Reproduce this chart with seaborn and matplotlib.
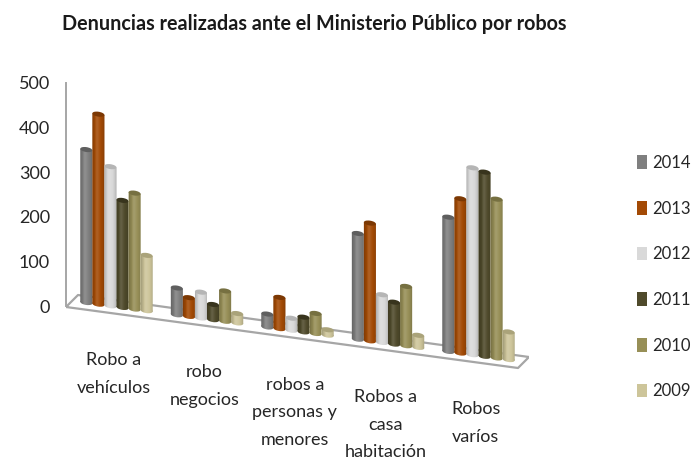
import numpy as np
import pandas as pd
import matplotlib
matplotlib.use("Agg")
import matplotlib.pyplot as plt
from matplotlib.patches import Ellipse
from matplotlib.path import Path
from matplotlib.transforms import Affine2D
import seaborn as sns

categories = ["Robo a\nvehículos", "robo\nnegocios", "robos a\npersonas y\nmenores",
              "Robos a\ncasa\nhabitación", "Robos\nvaríos"]
years = ["2014", "2013", "2012", "2011", "2010", "2009"]
v2014 = [343, 60, 29, 237, 301]
v2013 = [426, 42, 70, 264, 346]
v2012 = [312, 58, 27, 107, 419]
v2011 = [240, 34, 33, 94, 413]
v2010 = [260, 68, 45, 133, 356]
v2009 = [124, 21, 12, 27, 62]
colors = ["#7f7f7f", "#a34a05", "#d9d9d9", "#4f4a2b", "#978f57", "#cdc59a"]
caps = ["#5f5f5f", "#7c3803", "#b5b5b5", "#38341d", "#767041", "#aaa37a"]

rows = []
for year, vals in zip(years, [v2014, v2013, v2012, v2011, v2010, v2009]):
    for cat, v in zip(categories, vals):
        rows.append({"cat": cat, "year": year, "value": v})
df = pd.DataFrame(rows)

sns.set_theme(style="white")
plt.rcParams["font.family"] = ["Lato", "DejaVu Sans"]

W, H = 692, 465
fig = plt.figure(figsize=(W / 100, H / 100), dpi=100)
ax = fig.add_axes([66 / W, 1 - 465 / H, (529 - 66) / W, (465 - 83) / H])
ax.patch.set_alpha(0)

sns.barplot(data=df, x="cat", y="value", hue="year", hue_order=years, order=categories,
            palette=colors, saturation=1, width=0.8, ax=ax, errorbar=None, linewidth=0)

xlim = (-0.558, 4.558)
ylim = (-356.5, 500)

# the floor runs downhill to the right, so everything gets sheared
slope = 27.4
x_ref = -0.05
shear = Affine2D(np.array([[1, 0, 0], [-slope, 1, slope * x_ref], [0, 0, 1]]))
trans = shear + ax.transData


def px(x, y):
    return (x - 116.5) / 90.5, (306 - y) / 0.446


# floor outline, behind the bars
floor = [px(66, 307), px(518, 368), px(529, 357), px(78, 295), px(66, 307)]
ax.plot([p[0] for p in floor], [p[1] for p in floor], color="#a6a6a6", lw=1.6, zorder=1)

t = np.linspace(-1, 1, 24)
dark = 0.2 * np.abs(t) ** 2.5
light = np.exp(-((t + 0.2) / 0.35) ** 2) * 0.12
shade = np.zeros((1, 24, 4))
shade[0, :, :3] = (light > dark)[:, None] * 1.0
shade[0, :, 3] = np.maximum(dark, light)

cap_h = 11
z = 3
bars = []
for i, cont in enumerate(ax.containers):
    for bar in cont:
        bars.append((bar, i))
bars.sort(key=lambda b: b[0].get_x())

for bar, i in bars:
    x0, w, h = bar.get_x(), bar.get_width(), bar.get_height()
    cx = x0 + w / 2
    z += 1
    bar.set_transform(trans)
    bar.set_zorder(z)
    bot = Ellipse((cx, 0), w, cap_h, color=colors[i], lw=0, zorder=z, transform=trans)
    ax.add_patch(bot)
    rect = Path([(x0, 0), (x0 + w, 0), (x0 + w, h), (x0, h), (x0, 0)], closed=True)
    circ = Path.unit_circle().transformed(Affine2D().scale(w / 2, cap_h / 2).translate(cx, 0))
    outline = Path.make_compound_path(rect, circ)
    im = ax.imshow(shade, extent=(x0, x0 + w, -cap_h, h), aspect="auto", zorder=z,
                   interpolation="bilinear")
    im.set_transform(trans)
    im.set_clip_path(outline, trans)
    top = Ellipse((cx, h), w, cap_h, color=caps[i], lw=0, zorder=z, transform=trans)
    ax.add_patch(top)

ax.set_xlim(xlim)
ax.set_ylim(ylim)
ax.set_xlabel("")
ax.set_ylabel("")
ax.set_xticks([])
ax.set_yticks([0, 100, 200, 300, 400, 500])
ax.tick_params(axis="y", length=0, pad=11.5, labelsize=13, labelcolor="#262626")
for s in ["top", "right", "bottom"]:
    ax.spines[s].set_visible(False)
ax.spines["left"].set_color("#a6a6a6")
ax.spines["left"].set_linewidth(1.4)
ax.spines["left"].set_bounds(0, 500)

for i, cat in enumerate(categories):
    ax.text(i - 0.03, -103, cat, transform=trans, ha="center", va="top", fontsize=13,
            color="#262626", linespacing=1.9, clip_on=False)

sns.move_legend(ax, "upper left", bbox_to_anchor=(637 / W, 1 - 155 / H),
                bbox_transform=fig.transFigure, title=None, frameon=False, fontsize=12,
                handlelength=0.6, handleheight=0.9, handletextpad=0.3,
                labelspacing=1.78, borderpad=0, borderaxespad=0, labelcolor="#262626")

fig.text(314 / W, 1 - 24 / H, "Denuncias realizadas ante el Ministerio Público por robos",
         ha="center", va="center", fontsize=14.25, fontweight="bold", color="#1a1a1a")

fig.savefig("out.png", dpi=100)
